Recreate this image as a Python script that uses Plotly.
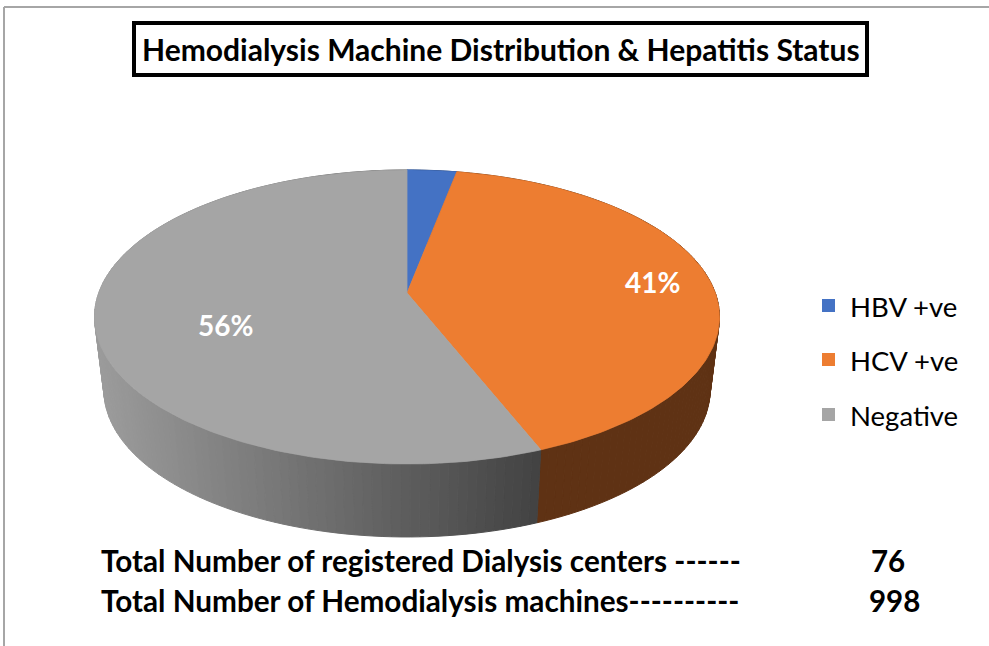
import math
import plotly.graph_objects as go

# ---------------- data ----------------
categories = ["HBV +ve", "HCV +ve", "Negative"]
percent_values = [3, 41, 56]
show_label = [False, True, True]
title_text = "Hemodialysis Machine Distribution & Hepatitis Status"
summary_labels = ["Total Number of registered Dialysis centers ------",
                  "Total Number of Hemodialysis machines----------"]
summary_values = [76, 998]

# ---------------- style ----------------
colors = ["#4472C4", "#ED7D31", "#A5A5A5"]
FONT = "Lato"
W, H = 989, 646
# perspective disc geometry (pixel space)
CX, CY = 407.0, 293.0
A, B, K = 308.3, 143.1, 0.163
DEPTH = 73.0
BOT_A = 0.97
label_r = [0.7, 0.81, 0.59]
label_dy = [0, 0, 16]


def proj(r, phi, bottom=False):
    u = r * math.sin(phi)
    w = r * math.cos(phi)
    d = 1 + K * w
    a = A * (BOT_A if bottom else 1.0)
    x = CX + a * u / d
    y = CY + (DEPTH if bottom else 0.0) - B * w / d
    return x, y


def shade(hexcol, f):
    h = hexcol.lstrip("#")
    rgb = [int(h[i:i + 2], 16) for i in (0, 2, 4)]
    return "rgb(%d,%d,%d)" % tuple(max(0, min(255, round(c * f))) for c in rgb)


def side_factor(x):
    return max(0.4, 0.95 - 0.55 * (x - 95) / 445)


fig = go.Figure()

total = sum(percent_values)
bounds = []
acc = 0
for v in percent_values:
    a0 = 2 * math.pi * acc / total
    acc += v
    a1 = 2 * math.pi * acc / total
    bounds.append((a0, a1))

# side strips
strips = []
for i, (a0, a1) in enumerate(bounds):
    n = max(2, int(math.degrees(a1 - a0) / 1.5))
    for j in range(n):
        p = a0 + (a1 - a0) * j / n
        q = a0 + (a1 - a0) * (j + 1) / n
        t0, t1 = proj(1, p), proj(1, q)
        b1, b0 = proj(1, q, True), proj(1, p, True)
        xs = [t0[0], t1[0], b1[0], b0[0], t0[0]]
        ys = [t0[1], t1[1], b1[1], b0[1], t0[1]]
        mx = sum(xs[:4]) / 4
        wmean = math.cos((p + q) / 2)
        strips.append((wmean, xs, ys, shade(colors[i], side_factor(mx))))

strips.sort(key=lambda s: -s[0])
for _, xs, ys, c in strips:
    fig.add_trace(go.Scatter(x=xs, y=ys, mode="lines", fill="toself",
                             fillcolor=c, line=dict(color=c, width=1),
                             hoverinfo="skip", showlegend=False))

# top faces
for i, (a0, a1) in enumerate(bounds):
    n = max(4, int(math.degrees(a1 - a0)))
    xs, ys = [CX], [CY]
    for j in range(n + 1):
        x, y = proj(1, a0 + (a1 - a0) * j / n)
        xs.append(x)
        ys.append(y)
    xs.append(CX)
    ys.append(CY)
    fig.add_trace(go.Scatter(x=xs, y=ys, mode="lines", fill="toself",
                             fillcolor=colors[i], line=dict(color=colors[i], width=0.8),
                             name=categories[i], hoverinfo="name", showlegend=False))

annotations = []
shapes = []

# data labels
for i, (a0, a1) in enumerate(bounds):
    if not show_label[i]:
        continue
    x, y = proj(label_r[i], (a0 + a1) / 2)
    annotations.append(dict(x=x, y=y + label_dy[i], xref="x", yref="y",
                            text="%d%%" % percent_values[i], showarrow=False,
                            font=dict(family=FONT, size=28, color="white", weight="bold")))

# chart border (left & top)
shapes.append(dict(type="line", xref="x", yref="y", x0=4, x1=4, y0=7, y1=H,
                   line=dict(color="#A6A6A6", width=2)))
shapes.append(dict(type="line", xref="x", yref="y", x0=4, x1=W, y0=7, y1=7,
                   line=dict(color="#A6A6A6", width=2)))

# title box
shapes.append(dict(type="rect", xref="x", yref="y", x0=134, x1=867, y0=23, y1=75,
                   line=dict(color="black", width=4), fillcolor="white"))
annotations.append(dict(x=501, y=49, xref="x", yref="y", text=title_text, showarrow=False,
                        font=dict(family=FONT, size=30, color="black", weight="bold")))

# legend
leg_y = [306, 360, 415]
for i, cat in enumerate(categories):
    shapes.append(dict(type="rect", xref="x", yref="y", x0=822, x1=835,
                       y0=leg_y[i] - 7, y1=leg_y[i] + 6,
                       line=dict(width=0), fillcolor=colors[i]))
    annotations.append(dict(x=848, y=leg_y[i], xref="x", yref="y", text=cat,
                            showarrow=False, xanchor="left",
                            font=dict(family=FONT, size=27.5, color="black")))

# summary lines
sum_y = [560, 600]
val_x = [869, 867]
for i in range(2):
    annotations.append(dict(x=99, y=sum_y[i], xref="x", yref="y", text=summary_labels[i],
                            showarrow=False, xanchor="left",
                            font=dict(family=FONT, size=29.7, color="black", weight="bold")))
    annotations.append(dict(x=val_x[i], y=sum_y[i], xref="x", yref="y", text=str(summary_values[i]),
                            showarrow=False, xanchor="left",
                            font=dict(family=FONT, size=29.5, color="black", weight="bold")))

fig.update_layout(
    width=W, height=H, autosize=False,
    margin=dict(l=0, r=0, t=0, b=0, pad=0),
    paper_bgcolor="white", plot_bgcolor="white",
    xaxis=dict(range=[0, W], visible=False, fixedrange=True),
    yaxis=dict(range=[H, 0], visible=False, fixedrange=True),
    shapes=shapes, annotations=annotations, showlegend=False,
)

fig.write_html("out.html", config={"displayModeBar": False},
               post_script="document.body.style.margin='0';")
